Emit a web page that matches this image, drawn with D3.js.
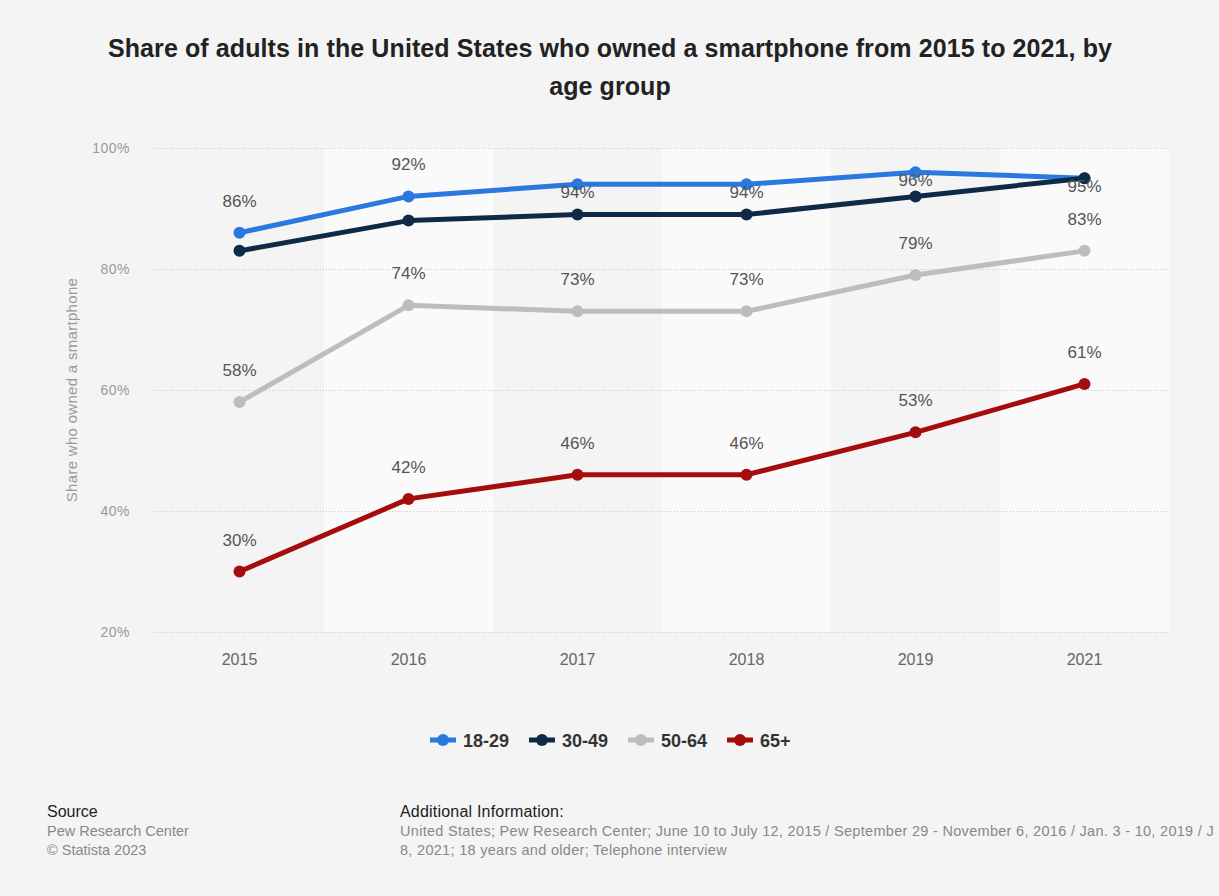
<!DOCTYPE html>
<html>
<head>
<meta charset="utf-8">
<script src="https://cdn.jsdelivr.net/npm/d3@7"></script>
<style>
  html, body { margin: 0; padding: 0; background: #f4f4f4; }
  svg { display: block; font-family: "Liberation Sans", Arial, sans-serif; }
</style>
</head>
<body>
<svg id="chart" width="1219" height="896"></svg>
<script>
// Smartphone ownership among U.S. adults, by age group (percent)
const years = ["2015", "2016", "2017", "2018", "2019", "2021"];
const seriesNames = ["18-29", "30-49", "50-64", "65+"];
const seriesColors = ["#2b78e0", "#0e2a47", "#bdbdbd", "#a50d0d"];
const values1829 = [86, 92, 94, 94, 96, 95];
const values3049 = [83, 88, 89, 89, 92, 95];
const values5064 = [58, 74, 73, 73, 79, 83];
const values65 = [30, 42, 46, 46, 53, 61];
const labelled = [true, false, true, true];
const yTicks = [20, 40, 60, 80, 100];

const series = seriesNames.map((name, i) => ({
  name,
  color: seriesColors[i],
  values: [values1829, values3049, values5064, values65][i],
  showLabels: labelled[i]
}));

const svg = d3.select("#chart");
const margin = { left: 155, right: 50, top: 148, bottom: 264 };
const W = 1219, H = 896;
const plotW = W - margin.left - margin.right;
const plotH = H - margin.top - margin.bottom;

const x = d3.scaleBand().domain(years).range([margin.left, margin.left + plotW]);
const y = d3.scaleLinear().domain([20, 100]).range([margin.top + plotH, margin.top]);

// Title
const title = svg.append("text")
  .attr("text-anchor", "middle")
  .attr("font-size", 25).attr("letter-spacing", 0.1).attr("font-weight", "bold").attr("fill", "#222");
title.append("tspan").attr("x", 610).attr("y", 57)
  .text("Share of adults in the United States who owned a smartphone from 2015 to 2021, by");
title.append("tspan").attr("x", 610).attr("y", 95)
  .text("age group");

// Alternating column bands
svg.append("g").selectAll("rect")
  .data(years.filter((d, i) => i % 2 === 1))
  .join("rect")
  .attr("x", d => x(d)).attr("y", margin.top)
  .attr("width", x.bandwidth()).attr("height", plotH)
  .attr("fill", "#fafafa");

// Horizontal grid and y labels
const yAxis = svg.append("g")
  .attr("transform", `translate(${margin.left},0)`)
  .call(d3.axisLeft(y).tickValues(yTicks).tickSize(-plotW).tickFormat(d => d + "%"));
yAxis.select(".domain").remove();
yAxis.selectAll(".tick line")
  .attr("stroke", "#c8c8c8").attr("stroke-dasharray", "1,2");
yAxis.selectAll(".tick text")
  .attr("x", -25).attr("font-size", 14).attr("letter-spacing", 0.5).attr("fill", "#999")
  .attr("font-family", "Liberation Sans, Arial, sans-serif");

// X labels
const xAxis = svg.append("g")
  .attr("transform", `translate(0,${margin.top + plotH})`)
  .call(d3.axisBottom(x).tickSize(0));
xAxis.select(".domain").remove();
xAxis.selectAll(".tick text")
  .attr("dy", 0).attr("y", 33).attr("font-size", 16).attr("fill", "#666")
  .attr("font-family", "Liberation Sans, Arial, sans-serif");

// Y axis title
svg.append("text")
  .attr("transform", `translate(77,${margin.top + plotH / 2}) rotate(-90)`)
  .attr("text-anchor", "middle")
  .attr("font-size", 15).attr("letter-spacing", 0.3).attr("fill", "#999")
  .text("Share who owned a smartphone");

// Lines and markers
const cx = d => x(d) + x.bandwidth() / 2;
const line = d3.line().x((v, i) => cx(years[i])).y(v => y(v));

const gSeries = svg.append("g");
series.forEach(s => {
  gSeries.append("path")
    .attr("d", line(s.values))
    .attr("fill", "none").attr("stroke", s.color)
    .attr("stroke-width", 5).attr("stroke-linejoin", "round").attr("stroke-linecap", "round");
  gSeries.selectAll(null)
    .data(s.values)
    .join("circle")
    .attr("cx", (v, i) => cx(years[i])).attr("cy", v => y(v))
    .attr("r", 6).attr("fill", s.color);
});

// Value labels: above the point, or just below it when there is no room above
const gLabels = svg.append("g");
series.filter(s => s.showLabels).forEach(s => {
  gLabels.selectAll(null)
    .data(s.values)
    .join("text")
    .attr("x", (v, i) => cx(years[i]))
    .attr("y", v => {
      const py = y(v);
      return (py - 26 - 13 < margin.top) ? py + 14 : py - 26;
    })
    .attr("text-anchor", "middle")
    .attr("font-size", 17).attr("fill", "#555")
    .text(v => v + "%");
});

// Legend
const legend = svg.append("g");
const legendX = [430, 529, 628, 727];
series.forEach((s, i) => {
  const g = legend.append("g").attr("transform", `translate(${legendX[i]},740)`);
  g.append("line").attr("x1", 0).attr("x2", 26).attr("y1", 0).attr("y2", 0)
    .attr("stroke", s.color).attr("stroke-width", 5);
  g.append("circle").attr("cx", 13).attr("cy", 0).attr("r", 6).attr("fill", s.color);
  g.append("text").attr("x", 33).attr("y", 6.5)
    .attr("font-size", 18).attr("font-weight", "bold").attr("fill", "#333")
    .text(s.name);
});

// Footer
svg.append("text").attr("x", 47).attr("y", 817)
  .attr("font-size", 16).attr("fill", "#222").text("Source");
svg.append("text").attr("x", 47).attr("y", 836)
  .attr("font-size", 14.5).attr("fill", "#888").text("Pew Research Center");
svg.append("text").attr("x", 47).attr("y", 855)
  .attr("font-size", 14.5).attr("fill", "#888").text("© Statista 2023");

svg.append("text").attr("x", 400).attr("y", 817)
  .attr("font-size", 16).attr("letter-spacing", 0.2).attr("fill", "#222")
  .text("Additional Information:");
svg.append("text").attr("x", 400).attr("y", 836)
  .attr("font-size", 14.5).attr("letter-spacing", 0.3).attr("fill", "#888")
  .text("United States; Pew Research Center; June 10 to July 12, 2015 / September 29 - November 6, 2016 / Jan. 3 - 10, 2019 / J");
svg.append("text").attr("x", 400).attr("y", 855)
  .attr("font-size", 14.5).attr("letter-spacing", 0.3).attr("fill", "#888")
  .text("8, 2021; 18 years and older; Telephone interview");
</script>
</body>
</html>
